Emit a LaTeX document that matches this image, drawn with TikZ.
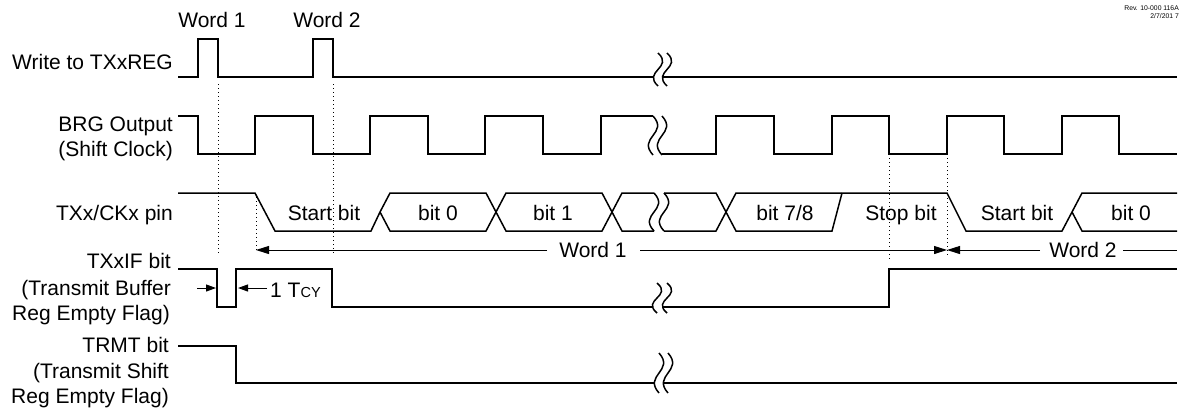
\documentclass[tikz,border=0pt]{standalone}
\usepackage{fontspec}
\setmainfont{Liberation Sans}
\usetikzlibrary{arrows.meta}
\newcommand\sqwig[3]{%
  \pgfmathsetmacro\sqh{#3-#2}%
  \draw[sig] (#1,#2) .. controls ({#1+16},{#2+0.45*\sqh}) and ({#1-16},{#2+0.55*\sqh}) .. (#1,#3);}
\begin{document}
\begin{tikzpicture}[x=1pt,y=-1pt,
  sig/.style={line width=1.5pt, line join=miter, line cap=butt},
  dotln/.style={line width=1pt, dash pattern=on 1pt off 3pt},
  lbl/.style={font=\fontsize{21}{25}\selectfont, inner sep=0pt, anchor=base east},
  blbl/.style={font=\fontsize{21}{25}\selectfont, inner sep=0pt, anchor=base},
  warr/.style={line width=1pt, -{Triangle[length=13pt,width=8pt]}},
  sarr/.style={line width=1pt, -{Triangle[length=10pt,width=7pt]}},
  revlbl/.style={font=\fontsize{6.8}{8}\selectfont, inner sep=0pt, anchor=base east}]
\useasboundingbox (0,0) rectangle (1183,408);
\fill[white] (0,0) rectangle (1183,408);

% revision
\node[revlbl] (rev) at (1179,10) {Rev. 10-000 116A};
\node[revlbl] (date) at (1179,18) {2/7/201 7};

% top labels
\node[blbl] (w1top) at (212,27) {Word 1};
\node[blbl] (w2top) at (327,27) {Word 2};

% left labels
\node[lbl] (lwr) at (173,69.5) {Write to TXxREG};
\node[lbl] (lbrg1) at (173,131) {BRG Output};
\node[lbl] (lbrg2) at (173,156) {(Shift Clock)};
\node[lbl] (ltx) at (173,220) {TXx/CKx pin};
\node[lbl] (lif1) at (171,268) {TXxIF bit};
\node[lbl] (lif2) at (171,295) {(Transmit Buffer};
\node[lbl] (lif3) at (170,320) {Reg Empty Flag)};
\node[lbl] (ltr1) at (169,352) {TRMT bit};
\node[lbl] (ltr2) at (169,378) {(Transmit Shift};
\node[lbl] (ltr3) at (169,403) {Reg Empty Flag)};

% Write to TXxREG
\draw[sig] (178,77) -- (198,77) -- (198,39) -- (218,39) -- (218,77) -- (313,77) -- (313,39) -- (333,39) -- (333,77) -- (653.4,77);
\draw[sig] (662.4,77) -- (1177,77);
\sqwig{658}{53}{86}
\sqwig{667}{53}{86}

% BRG output
\draw[sig] (178,116) -- (198,116) -- (198,154) -- (255,154) -- (255,116) -- (313,116) -- (313,154)
  -- (370,154) -- (370,116) -- (428,116) -- (428,154) -- (485,154) -- (485,116) -- (543,116)
  -- (543,154) -- (601,154) -- (601,116) -- (653,116);
\sqwig{653}{116}{155}
\sqwig{662}{116}{155}
\draw[sig] (662,154) -- (716,154) -- (716,116) -- (774,116) -- (774,154) -- (832,154) -- (832,116)
  -- (889,116) -- (889,154) -- (947,154) -- (947,116) -- (1004,116) -- (1004,154) -- (1062,154)
  -- (1062,116) -- (1119,116) -- (1119,154) -- (1177,154);

% TXx/CKx bus
\draw[sig] (178,193) -- (255,193) -- (275,231) -- (371,231) -- (380,212) -- (390,193) -- (486,193)
  -- (506,231) -- (602,231) -- (622,193) -- (654,193);
\draw[sig] (380,212) -- (390,231) -- (486,231) -- (506,193) -- (602,193) -- (622,231) -- (654,231);
\sqwig{654}{193}{231}
\sqwig{664}{193}{231}
\draw[sig] (664,193) -- (716,193) -- (736,231) -- (832,231) -- (842,193);
\draw[sig] (664,231) -- (716,231) -- (736,193) -- (947,193) -- (966,231) -- (1062,231) -- (1072,212)
  -- (1082,193) -- (1177,193);
\draw[sig] (1072,212) -- (1082,231) -- (1177,231);

% bus labels
\node[blbl] (bs1) at (324,220) {Start bit};
\node[blbl] (bb0) at (438,220) {bit 0};
\node[blbl] (bb1) at (553,220) {bit 1};
\node[blbl] (bb7) at (785,220) {bit 7/8};
\node[blbl] (bsp) at (901,220) {Stop bit};
\node[blbl] (bs2) at (1017,220) {Start bit};
\node[blbl] (bb02) at (1131,220) {bit 0};

% dotted markers
\coordinate (d1a) at (218,84);  \coordinate (d1b) at (218,255);
\coordinate (d2a) at (333,84);  \coordinate (d2b) at (333,255);
\coordinate (d3a) at (256,197); \coordinate (d3b) at (256,253);
\coordinate (d4a) at (889,158); \coordinate (d4b) at (889,262);
\coordinate (d5a) at (947,158); \coordinate (d5b) at (947,258);
\draw[dotln] (d1a) -- (d1b);
\draw[dotln] (d2a) -- (d2b);
\draw[dotln] (d3a) -- (d3b);
\draw[dotln] (d4a) -- (d4b);
\draw[dotln] (d5a) -- (d5b);

% word arrows
\node[blbl] (w1) at (593,257) {Word 1};
\node[blbl] (w2) at (1083,257) {Word 2};
\coordinate (w1s) at (256,250);
\coordinate (w1e) at (947,250);
\coordinate (w2e) at (1177,250);
\draw[warr] (547,250) -- (w1s);
\draw[warr] (640,250) -- (w1e);
\draw[warr] (1040,250) -- (w1e);
\draw[line width=1pt] (1123,250) -- (w2e);

% TXxIF
\draw[sig] (178,269) -- (217,269) -- (217,307) -- (236,307) -- (236,269) -- (332,269) -- (332,307) -- (652.4,307);
\sqwig{657}{283}{313}
\sqwig{667}{283}{313}
\draw[sig] (662.4,307) -- (889,307) -- (889,269) -- (1177,269);
\coordinate (a1s) at (197,288); \coordinate (a1e) at (216,288);
\coordinate (a2s) at (267,288); \coordinate (a2e) at (238,288);
\draw[sarr] (a1s) -- (a1e);
\draw[sarr] (a2s) -- (a2e);
\node[font=\fontsize{21}{25}\selectfont, inner sep=0pt, anchor=base west] (tcy) at (270,297) {1 T{\fontsize{14.5}{16}\selectfont CY}};

% TRMT
\draw[sig] (178,346) -- (236,346) -- (236,383) -- (654.4,383);
\sqwig{659}{353}{393}
\sqwig{668}{353}{393}
\draw[sig] (663.4,383) -- (1177,383);
\end{tikzpicture}
\end{document}
